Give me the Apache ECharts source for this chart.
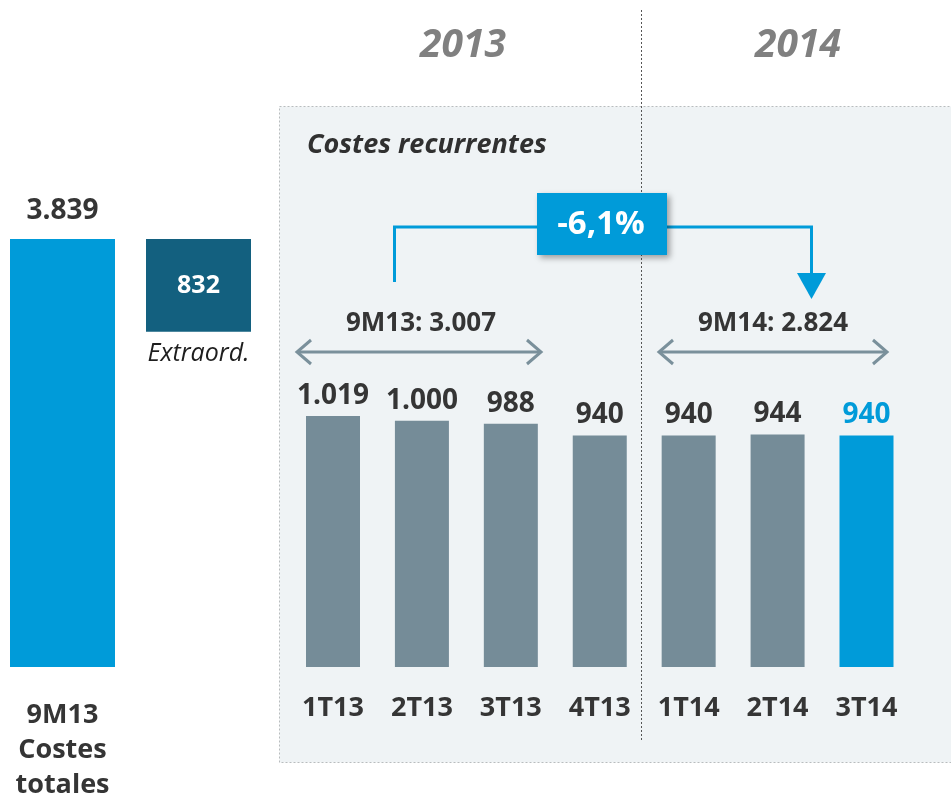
<!DOCTYPE html>
<html>
<head>
<meta charset="utf-8">
<script src="https://cdn.jsdelivr.net/npm/echarts@6/dist/echarts.min.js"></script>
<style>
  html, body { margin: 0; padding: 0; background: #fff; }
  #chart { width: 951px; height: 798px; }
</style>
</head>
<body>
<div id="chart"></div>
<script>
// datos
const totalLabel = '9M13\nCostes\ntotales'
const totalCost = 3839
const extraord = 832
const quarters = ['1T13', '2T13', '3T13', '4T13', '1T14', '2T14', '3T14']
const recurrent = [1019, 1000, 988, 940, 940, 944, 940]

const BLUE = '#009BD9'
const TEAL = '#13607F'
const GREY = '#758C98'
const TXT = '#353535'
const FONT = '"Open Sans", sans-serif'

const fmt = v => String(v).replace(/\B(?=(\d{3})+(?!\d))/g, '.')
const sum = arr => arr.reduce((a, b) => a + b, 0)
const nine13 = sum(recurrent.slice(0, 3))
const nine14 = sum(recurrent.slice(4, 7))
const pct = ((nine14 / nine13 - 1) * 100).toFixed(1).replace('.', ',') + '%'

const chart = echarts.init(document.getElementById('chart'))

const arrowColor = '#7A909B'
function dblArrow(x1, x2, y) {
  return [
    { type: 'line', z: 10, shape: { x1: x1 + 2, y1: y, x2: x2 - 2, y2: y }, style: { stroke: arrowColor, lineWidth: 3 } },
    { type: 'polyline', z: 10, shape: { points: [[x1 + 16, y - 12], [x1 + 2, y], [x1 + 16, y + 12]] }, style: { stroke: arrowColor, lineWidth: 3, fill: null } },
    { type: 'polyline', z: 10, shape: { points: [[x2 - 16, y - 12], [x2 - 2, y], [x2 - 16, y + 12]] }, style: { stroke: arrowColor, lineWidth: 3, fill: null } }
  ]
}
function txt(x, y, text, font, fill, align) {
  return { type: 'text', z: 10, style: { x: x, y: y, text: text, font: font, fill: fill, align: align || 'center', verticalAlign: 'middle' } }
}

const option = {
  animation: false,
  grid: [
    { left: 62.5, top: 239, width: 136, height: 428, outerBoundsMode: 'none' },
    { left: 333, top: 416, width: 533.5, height: 251, outerBoundsMode: 'none' }
  ],
  xAxis: [
    {
      gridIndex: 0, type: 'category', data: [totalLabel, ''], boundaryGap: false,
      axisLine: { show: false }, axisTick: { show: false }, splitLine: { show: false },
      axisLabel: { color: TXT, fontFamily: FONT, fontWeight: 'bold', fontSize: 27, lineHeight: 35, margin: 31 }
    },
    {
      gridIndex: 1, type: 'category', data: quarters, boundaryGap: false,
      axisLine: { show: false }, axisTick: { show: false }, splitLine: { show: false },
      axisLabel: { color: TXT, fontFamily: FONT, fontWeight: 'bold', fontSize: 27, margin: 28 }
    }
  ],
  yAxis: [
    { gridIndex: 0, type: 'value', min: 0, max: totalCost, show: false },
    { gridIndex: 1, type: 'value', min: 0, max: Math.max(...recurrent), show: false }
  ],
  series: [
    {
      type: 'bar', xAxisIndex: 0, yAxisIndex: 0, stack: 'tot', barWidth: 105,
      data: [totalCost, '-'],
      itemStyle: { color: BLUE },
      label: {
        show: true, position: 'top', distance: 14, formatter: p => fmt(p.value),
        color: TXT, fontFamily: FONT, fontWeight: 'bold', fontSize: 28
      }
    },
    {
      type: 'bar', xAxisIndex: 0, yAxisIndex: 0, stack: 'tot', barWidth: 105,
      data: ['-', totalCost - extraord],
      itemStyle: { color: 'transparent' },
      label: {
        show: true, position: 'insideTop', distance: 10, formatter: 'Extraord.',
        color: '#1E1E1E', fontFamily: FONT, fontStyle: 'italic', fontSize: 25
      }
    },
    {
      type: 'bar', xAxisIndex: 0, yAxisIndex: 0, stack: 'tot', barWidth: 105,
      data: ['-', extraord],
      itemStyle: { color: TEAL },
      label: {
        show: true, position: 'inside', formatter: p => fmt(p.value),
        color: '#fff', fontFamily: FONT, fontWeight: 'bold', fontSize: 25
      }
    },
    {
      type: 'bar', xAxisIndex: 1, yAxisIndex: 1, barWidth: 54,
      data: recurrent.map((v, i) => i === recurrent.length - 1
        ? { value: v, itemStyle: { color: BLUE }, label: { color: BLUE } }
        : v),
      itemStyle: { color: GREY },
      label: {
        show: true, position: 'top', distance: 6, formatter: p => fmt(p.value),
        color: TXT, fontFamily: FONT, fontWeight: 'bold', fontSize: 28
      }
    }
  ],
  graphic: [
    {
      type: 'rect', z: -1, shape: { x: 279.5, y: 106.5, width: 680, height: 656 },
      style: { fill: '#EFF3F5', stroke: '#B8BCBE', lineWidth: 1, lineDash: [2, 2] }
    },
    {
      type: 'line', z: 10, shape: { x1: 641.5, y1: 10, x2: 641.5, y2: 742 },
      style: { stroke: '#555', lineWidth: 1, lineDash: [2, 2] }
    },
    txt(463, 46, '2013', 'italic bold 39px "Open Sans"', '#808080'),
    txt(798, 46, '2014', 'italic bold 39px "Open Sans"', '#808080'),
    txt(307, 145, 'Costes recurrentes', 'italic bold 27px "Open Sans"', '#303030', 'left'),
    {
      type: 'polyline', z: 10,
      shape: { points: [[394.5, 282], [394.5, 227], [811.5, 227], [811.5, 280]] },
      style: { stroke: BLUE, lineWidth: 3, fill: null }
    },
    {
      type: 'polygon', z: 10,
      shape: { points: [[797, 273], [826, 273], [811.5, 299]] },
      style: { fill: BLUE }
    },
    {
      type: 'rect', z: 11, shape: { x: 537, y: 193, width: 130, height: 62 },
      style: { fill: BLUE, shadowBlur: 6, shadowOffsetX: 3, shadowOffsetY: 3, shadowColor: 'rgba(0,0,0,0.35)' }
    },
    { type: 'text', z: 12, style: { x: 601, y: 225, text: pct, font: 'bold 33px "Open Sans"', fill: '#fff', align: 'center', verticalAlign: 'middle' } },
    txt(421, 324, '9M13: ' + fmt(nine13), 'bold 26px "Open Sans"', TXT),
    txt(773, 324, '9M14: ' + fmt(nine14), 'bold 26px "Open Sans"', TXT),
    ...dblArrow(295, 543, 352),
    ...dblArrow(657, 889, 352)
  ]
}

chart.setOption(option)
</script>
</body>
</html>
